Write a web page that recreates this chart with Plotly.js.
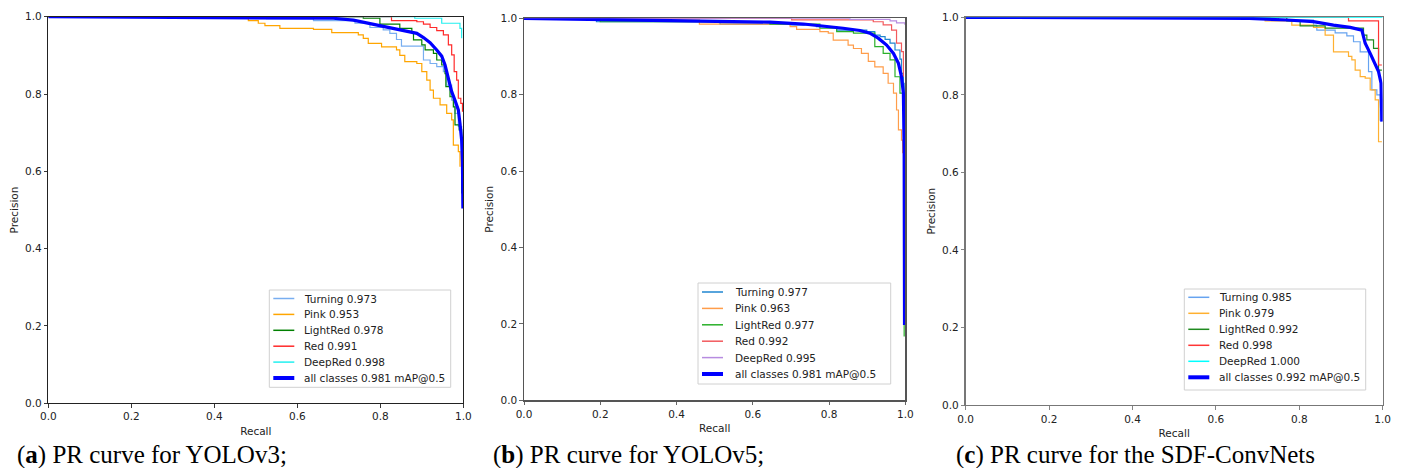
<!DOCTYPE html>
<html>
<head>
<meta charset="utf-8">
<script src="https://cdn.plot.ly/plotly-3.0.1.min.js"></script>
<style>html,body{margin:0;padding:0;background:#fff;}#chart{width:1402px;height:468px;}</style>
</head>
<body>
<div id="chart"></div>
<script>
// ---------------- DATA ----------------
const CLASSES = ['Turning', 'Pink', 'LightRed', 'Red', 'DeepRed'];
const CAPTIONS = ['PR curve for YOLOv3;', 'PR curve for YOLOv5;', 'PR curve for the SDF-ConvNets'];
const CAPTION_LETTERS = ['a', 'b', 'c'];
const X_TICKS = [0, 0.2, 0.4, 0.6, 0.8, 1.0];
const Y_TICKS = [0, 0.2, 0.4, 0.6, 0.8, 1.0];

// (a) YOLOv3
const a_ap = [0.973, 0.953, 0.978, 0.991, 0.998];
const a_map = 0.981;
const a_turning_r = [0, 0.526, 0.639, 0.739, 0.775, 0.807, 0.823, 0.839, 0.851, 0.904, 0.920, 0.936, 0.952, 0.960, 0.972, 0.980, 0.988, 0.996, 0.998];
const a_turning_p = [1, 0.995, 0.990, 0.983, 0.972, 0.966, 0.957, 0.941, 0.924, 0.888, 0.879, 0.871, 0.858, 0.823, 0.784, 0.750, 0.716, 0.681, 0.509];
const a_pink_r = [0, 0.482, 0.506, 0.522, 0.558, 0.639, 0.683, 0.747, 0.759, 0.771, 0.803, 0.839, 0.847, 0.859, 0.888, 0.900, 0.912, 0.920, 0.928, 0.944, 0.960, 0.972, 0.976, 0.988, 0.992];
const a_pink_p = [1, 0.990, 0.983, 0.977, 0.970, 0.967, 0.959, 0.953, 0.944, 0.931, 0.922, 0.914, 0.900, 0.884, 0.879, 0.858, 0.836, 0.810, 0.789, 0.772, 0.750, 0.733, 0.668, 0.651, 0.612];
const a_lightred_r = [0, 0.759, 0.799, 0.847, 0.876, 0.880, 0.900, 0.908, 0.928, 0.936, 0.948, 0.956, 0.958, 0.968, 0.976, 0.980, 0.990, 0.996];
const a_lightred_p = [1, 0.996, 0.981, 0.970, 0.961, 0.940, 0.927, 0.914, 0.905, 0.888, 0.875, 0.853, 0.819, 0.793, 0.767, 0.720, 0.707, 0.543];
const a_red_r = [0, 0.827, 0.888, 0.904, 0.920, 0.936, 0.952, 0.964, 0.972, 0.978, 0.984, 0.988, 0.994, 0.998];
const a_red_p = [1, 0.990, 0.987, 0.981, 0.972, 0.964, 0.953, 0.927, 0.901, 0.858, 0.836, 0.789, 0.776, 0.754];
const a_deepred_r = [0, 0.883, 0.948, 0.992, 0.996];
const a_deepred_p = [1, 0.996, 0.983, 0.970, 0.944];
const a_all_r = [0, 0.486, 0.606, 0.687, 0.735, 0.767, 0.799, 0.831, 0.863, 0.888, 0.904, 0.920, 0.936, 0.948, 0.956, 0.964, 0.972, 0.980, 0.988, 0.992, 0.996, 0.998, 0.999];
const a_all_p = [1, 0.998, 0.997, 0.996, 0.991, 0.984, 0.976, 0.970, 0.963, 0.957, 0.946, 0.933, 0.914, 0.898, 0.875, 0.836, 0.806, 0.784, 0.759, 0.724, 0.681, 0.621, 0.504];

// (b) YOLOv5
const b_ap = [0.977, 0.963, 0.977, 0.992, 0.995];
const b_map = 0.981;
const b_turning_r = [0, 0.19, 0.514, 0.698, 0.767, 0.820, 0.899, 0.920, 0.934, 0.947, 0.960, 0.973, 0.986, 0.990, 0.995, 0.997];
const b_turning_p = [1, 0.991, 0.985, 0.983, 0.978, 0.969, 0.965, 0.956, 0.952, 0.945, 0.935, 0.917, 0.893, 0.856, 0.830, 0.524];
const b_pink_r = [0, 0.2, 0.46, 0.698, 0.715, 0.776, 0.798, 0.811, 0.850, 0.864, 0.885, 0.903, 0.920, 0.942, 0.955, 0.969, 0.977, 0.982, 0.990, 0.993];
const b_pink_p = [1, 0.995, 0.985, 0.978, 0.971, 0.965, 0.961, 0.943, 0.930, 0.921, 0.908, 0.887, 0.873, 0.856, 0.830, 0.804, 0.760, 0.708, 0.681, 0.647];
const b_lightred_r = [0, 0.2, 0.645, 0.776, 0.820, 0.864, 0.920, 0.942, 0.960, 0.973, 0.986, 0.993, 0.997];
const b_lightred_p = [1, 0.991, 0.985, 0.974, 0.965, 0.961, 0.926, 0.908, 0.891, 0.847, 0.804, 0.777, 0.167];
const b_red_r = [0, 0.702, 0.916, 0.942, 0.964, 0.977, 0.990, 0.995];
const b_red_p = [1, 0.996, 0.991, 0.983, 0.969, 0.935, 0.913, 0.847];
const b_deepred_r = [0, 0.855, 0.960, 0.977, 0.999];
const b_deepred_p = [1, 0.997, 0.993, 0.988, 0.983];
const b_all_r = [0, 0.2, 0.47, 0.645, 0.733, 0.785, 0.837, 0.881, 0.907, 0.929, 0.951, 0.969, 0.982, 0.990, 0.995, 0.997, 0.998];
const b_all_p = [1, 0.997, 0.994, 0.990, 0.985, 0.980, 0.974, 0.968, 0.961, 0.948, 0.930, 0.908, 0.882, 0.847, 0.804, 0.655, 0.197];

// (c) SDF-ConvNets
const c_ap = [0.985, 0.979, 0.992, 0.998, 1.000];
const c_map = 0.992;
const c_turning_r = [0, 0.75, 0.834, 0.842, 0.886, 0.914, 0.930, 0.946, 0.966, 0.974, 0.986, 0.994, 0.998];
const c_turning_p = [1, 0.993, 0.980, 0.967, 0.960, 0.952, 0.937, 0.911, 0.860, 0.813, 0.800, 0.735, 0.735];
const c_pink_r = [0, 0.718, 0.782, 0.834, 0.862, 0.882, 0.918, 0.926, 0.934, 0.946, 0.958, 0.970, 0.982, 0.990, 0.998];
const c_pink_p = [1, 0.991, 0.980, 0.974, 0.954, 0.911, 0.899, 0.890, 0.864, 0.847, 0.843, 0.813, 0.787, 0.679, 0.679];
const c_lightred_r = [0, 0.77, 0.802, 0.862, 0.954, 0.962, 0.978, 0.990, 0.998];
const c_lightred_p = [1, 0.991, 0.978, 0.972, 0.954, 0.942, 0.920, 0.864, 0.864];
const c_red_r = [0, 0.918, 0.990, 0.998];
const c_red_p = [1, 0.991, 0.877, 0.877];
const c_deepred_r = [0, 1];
const c_deepred_p = [1, 1];
const c_all_r = [0, 0.68, 0.77, 0.834, 0.882, 0.922, 0.950, 0.958, 0.970, 0.982, 0.990, 0.996, 0.998];
const c_all_p = [1, 0.997, 0.993, 0.989, 0.980, 0.974, 0.967, 0.933, 0.907, 0.877, 0.860, 0.830, 0.731];

// ---------------- LAYOUT / STYLE ----------------
const W = 1402, H = 468;
const px = x => x / W;
const py = y => 1 - y / H;
const FS = 10.5;

const panels = [
  { id: '', data: [[a_turning_r, a_turning_p], [a_pink_r, a_pink_p], [a_lightred_r, a_lightred_p], [a_red_r, a_red_p], [a_deepred_r, a_deepred_p], [a_all_r, a_all_p]],
    ap: a_ap, map: a_map,
    colors: ['#78aef0', '#ffa500', '#008000', '#ff2a2a', '#22f0f0', '#0000ff'],
    box: [48.3, 16.7, 463.3, 403.3], spine: '#222', spineW: 1,
    legend: { x0: 269.3, y0: 290, x1: 450.7, y1: 387.3, row0: 298.5, dy: 15.9, txt: 34 },
    capX: 16 },
  { id: '2', data: [[b_turning_r, b_turning_p], [b_pink_r, b_pink_p], [b_lightred_r, b_lightred_p], [b_red_r, b_red_p], [b_deepred_r, b_deepred_p], [b_all_r, b_all_p]],
    ap: b_ap, map: b_map,
    colors: ['#1f86d0', '#ff9d4a', '#2ab02a', '#f25a5e', '#b78ce0', '#0000ff'],
    box: [524, 18.3, 905.3, 400.3], spine: '#555', spineW: 1.2,
    legend: { x0: 698, y0: 283, x1: 890.7, y1: 384, row0: 292, dy: 16.4, txt: 36 },
    capX: 491.5 },
  { id: '3', data: [[c_turning_r, c_turning_p], [c_pink_r, c_pink_p], [c_lightred_r, c_lightred_p], [c_red_r, c_red_p], [c_deepred_r, c_deepred_p], [c_all_r, c_all_p]],
    ap: c_ap, map: c_map,
    colors: ['#66a3f0', '#ffb030', '#1f8a1f', '#ff3535', '#00ffff', '#0000ff'],
    box: [965.7, 17.3, 1382.7, 405], spine: '#777', spineW: 1.4,
    legend: { x0: 1184.3, y0: 289, x1: 1365.7, y1: 390, row0: 297.3, dy: 16, txt: 34 },
    capX: 955 }
];

const traces = [];
const shapes = [];
const annotations = [];
const layout = {
  width: W, height: H,
  margin: { l: 0, r: 0, t: 0, b: 0, pad: 0 },
  paper_bgcolor: '#fff', plot_bgcolor: '#fff',
  showlegend: false,
  font: { family: 'DejaVu Sans', size: FS, color: '#222' },
  shapes: shapes, annotations: annotations
};

panels.forEach((P, pi) => {
  const xa = 'x' + P.id, ya = 'y' + P.id;
  const names = CLASSES.map((c, i) => c + ' ' + P.ap[i].toFixed(3)).concat(['all classes ' + P.map.toFixed(3) + ' mAP@0.5']);
  P.data.forEach((d, i) => {
    const isAll = i === 5;
    traces.push({
      type: 'scatter', mode: 'lines', x: d[0], y: d[1], xaxis: xa, yaxis: ya,
      name: names[i],
      line: { color: P.colors[i], width: isAll ? 3.2 : 1.2, shape: isAll ? 'linear' : 'hv' },
      hoverinfo: 'skip'
    });
  });
  const axCommon = {
    range: [0, 1], showgrid: false, zeroline: false, showline: true, mirror: true,
    linecolor: P.spine, linewidth: P.spineW, ticks: 'outside', ticklen: 3.5, tickwidth: 0.9,
    tickcolor: P.spine, tickformat: '.1f', tickmode: 'array',
    tickfont: { family: 'DejaVu Sans', size: FS, color: '#222' }, fixedrange: true
  };
  layout['xaxis' + P.id] = Object.assign({}, axCommon, {
    tickvals: X_TICKS, anchor: ya, domain: [px(P.box[0]), px(P.box[2])],
    title: { text: 'Recall', font: { family: 'DejaVu Sans', size: FS, color: '#222' }, standoff: 6 }
  });
  layout['yaxis' + P.id] = Object.assign({}, axCommon, {
    tickvals: Y_TICKS, anchor: xa, domain: [py(P.box[3]), py(P.box[1])],
    title: { text: 'Precision', font: { family: 'DejaVu Sans', size: FS, color: '#222' }, standoff: 4 }
  });

  // legend (matplotlib-style box)
  const L = P.legend;
  shapes.push({ type: 'rect', xref: 'paper', yref: 'paper', x0: px(L.x0), x1: px(L.x1), y0: py(L.y1), y1: py(L.y0),
    line: { color: '#d0d0d0', width: 1 }, fillcolor: 'rgba(255,255,255,0.85)', layer: 'above' });
  names.forEach((nm, i) => {
    const yy = L.row0 + i * L.dy;
    shapes.push({ type: 'line', xref: 'paper', yref: 'paper', x0: px(L.x0 + 4), x1: px(L.x0 + 25), y0: py(yy), y1: py(yy),
      line: { color: P.colors[i], width: i === 5 ? 4 : 1.5 }, layer: 'above' });
    annotations.push({ xref: 'paper', yref: 'paper', x: px(L.x0 + L.txt), y: py(yy), xanchor: 'left', yanchor: 'middle',
      text: nm, showarrow: false, font: { family: 'DejaVu Sans', size: FS, color: '#222' }, borderpad: 0 });
  });

  // caption
  annotations.push({ xref: 'paper', yref: 'paper', x: px(P.capX), y: py(455), xanchor: 'left', yanchor: 'middle',
    text: '(<b>' + CAPTION_LETTERS[pi] + '</b>) ' + CAPTIONS[pi], showarrow: false,
    font: { family: 'Liberation Serif', size: 25, color: '#000' }, borderpad: 0 });
});

Plotly.newPlot('chart', traces, layout, { staticPlot: true, displayModeBar: false });
</script>
</body>
</html>
